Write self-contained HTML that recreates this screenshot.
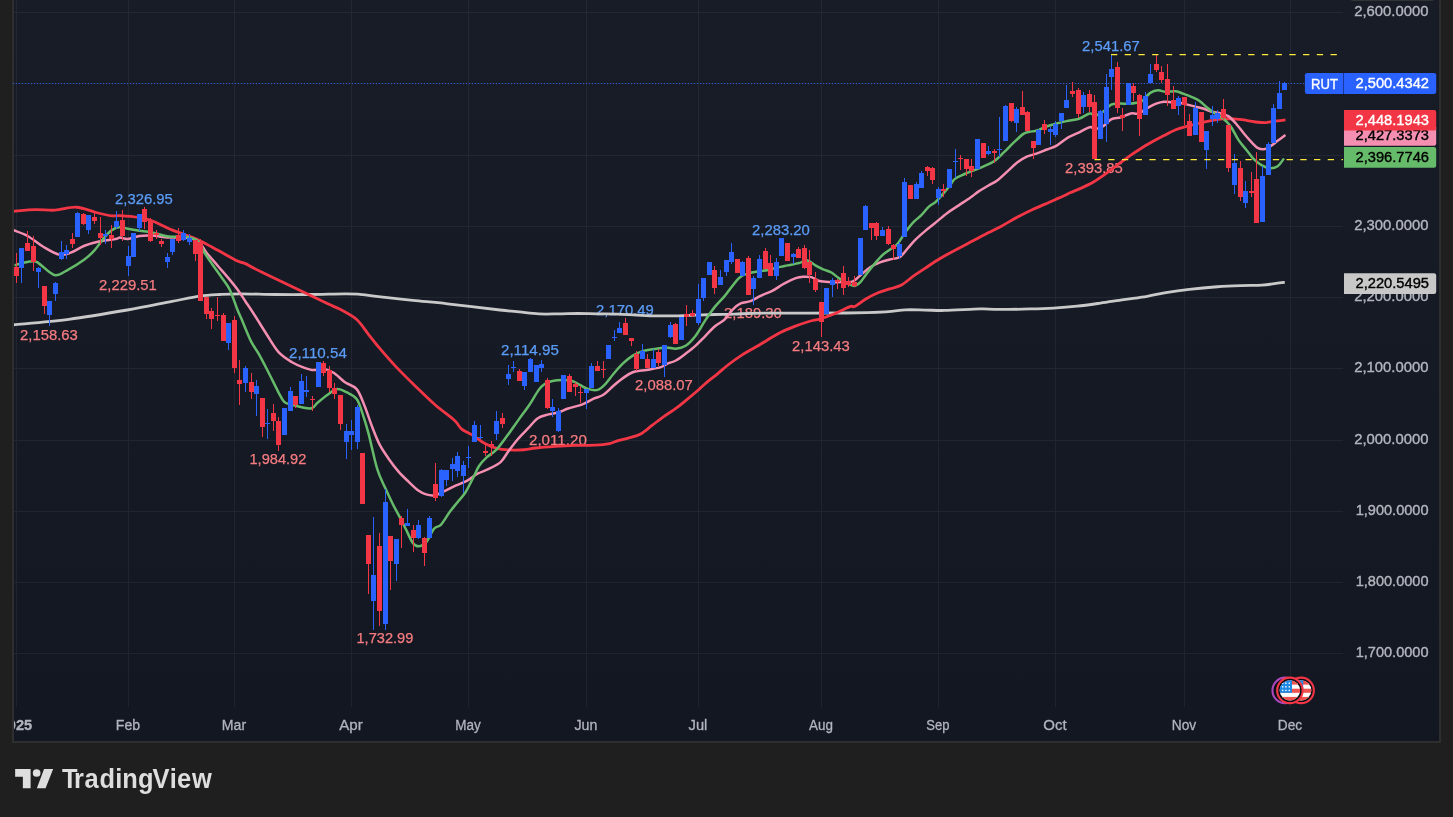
<!DOCTYPE html>
<html><head><meta charset="utf-8"><title>RUT chart</title>
<style>
html,body{margin:0;padding:0;background:#1f1f1f;}
body{width:1453px;height:817px;overflow:hidden;position:relative;font-family:"Liberation Sans",sans-serif;}
</style></head><body>
<svg width="1453" height="817" viewBox="0 0 1453 817" style="position:absolute;left:0;top:0">
<defs><linearGradient id="bg" x1="0" y1="0" x2="0" y2="1"><stop offset="0" stop-color="#181c27"/><stop offset="1" stop-color="#131722"/></linearGradient><clipPath id="plot"><rect x="14" y="0" width="1329" height="707"/></clipPath><clipPath id="chart"><rect x="14" y="0" width="1425" height="741"/></clipPath><clipPath id="flag"><circle cx="0" cy="0" r="10.2"/></clipPath></defs>
<rect x="12" y="-2" width="1429" height="745" fill="#2e2e2e"/>
<rect x="14" y="0" width="1425" height="741" fill="url(#bg)"/>
<path d="M14 12.5H1343 M14 83.5H1343 M14 155.5H1343 M14 226.5H1343 M14 297.5H1343 M14 368.5H1343 M14 440.5H1343 M14 511.5H1343 M14 582.5H1343 M14 653.5H1343 M16.5 0V707 M128.5 0V707 M234.5 0V707 M351.5 0V707 M468.5 0V707 M586.5 0V707 M698.5 0V707 M821.5 0V707 M938.5 0V707 M1055.5 0V707 M1184.5 0V707 M1290.5 0V707" stroke="rgba(242,242,242,0.058)" stroke-width="1" fill="none" shape-rendering="crispEdges"/>
<path d="M12.9 83.5H1305" stroke="#2962ff" stroke-width="1.2" stroke-dasharray="1.2 1.8" stroke-opacity="0.85" fill="none"/>
<g font-family="Liberation Sans, sans-serif" font-size="14.9" stroke-width="0.25">
<text x="115" y="203.78" fill="#5b9cf6" stroke="#5b9cf6" textLength="57.8" lengthAdjust="spacingAndGlyphs">2,326.95</text>
<text x="99" y="289.61" fill="#f77c80" stroke="#f77c80" textLength="57.8" lengthAdjust="spacingAndGlyphs">2,229.51</text>
<text x="20" y="340.12" fill="#f77c80" stroke="#f77c80" textLength="57.8" lengthAdjust="spacingAndGlyphs">2,158.63</text>
<text x="289" y="357.99" fill="#5b9cf6" stroke="#5b9cf6" textLength="57.8" lengthAdjust="spacingAndGlyphs">2,110.54</text>
<text x="249.45" y="463.91" fill="#f77c80" stroke="#f77c80" textLength="56.9" lengthAdjust="spacingAndGlyphs">1,984.92</text>
<text x="356.45" y="643.43" fill="#f77c80" stroke="#f77c80" textLength="56.9" lengthAdjust="spacingAndGlyphs">1,732.99</text>
<text x="501" y="354.85" fill="#5b9cf6" stroke="#5b9cf6" textLength="57.8" lengthAdjust="spacingAndGlyphs">2,114.95</text>
<text x="529" y="445.18" fill="#f77c80" stroke="#f77c80" textLength="57.8" lengthAdjust="spacingAndGlyphs">2,011.20</text>
<text x="596" y="315.27" fill="#5b9cf6" stroke="#5b9cf6" textLength="57.8" lengthAdjust="spacingAndGlyphs">2,170.49</text>
<text x="635" y="390.4" fill="#f77c80" stroke="#f77c80" textLength="57.8" lengthAdjust="spacingAndGlyphs">2,088.07</text>
<text x="752" y="234.95" fill="#5b9cf6" stroke="#5b9cf6" textLength="57.8" lengthAdjust="spacingAndGlyphs">2,283.20</text>
<text x="724" y="318.26" fill="#f77c80" stroke="#f77c80" textLength="57.8" lengthAdjust="spacingAndGlyphs">2,189.30</text>
<text x="792" y="350.95" fill="#f77c80" stroke="#f77c80" textLength="57.8" lengthAdjust="spacingAndGlyphs">2,143.43</text>
<text x="1065" y="172.5" fill="#f77c80" stroke="#f77c80" textLength="57.8" lengthAdjust="spacingAndGlyphs">2,393.85</text>
<text x="1082" y="50.77" fill="#5b9cf6" stroke="#5b9cf6" textLength="57.8" lengthAdjust="spacingAndGlyphs">2,541.67</text>
</g>
<g clip-path="url(#plot)">
<path d="M13.8 324.8C22.97 323.88 49.88 321.77 68.8 319.3C87.72 316.83 110.1 312.98 127.3 310C144.5 307.02 159.95 303.7 172 301.4C184.05 299.1 191.57 297.35 199.6 296.2C207.63 295.05 213.32 294.9 220.2 294.5C227.08 294.1 231.72 293.8 240.9 293.8C250.08 293.8 263.83 294.38 275.3 294.5C286.77 294.62 298.23 294.62 309.7 294.5C321.17 294.38 336.07 293.85 344.1 293.8C352.13 293.75 352.17 293.73 357.9 294.2C363.63 294.67 369.33 295.57 378.5 296.6C387.67 297.63 401.42 299.2 412.9 300.4C424.38 301.6 432.88 302.2 447.4 303.8C461.92 305.4 488.04 308.64 500 310C511.96 311.36 512.71 311.29 519.17 311.93C525.63 312.58 532.23 313.57 538.75 313.89C545.28 314.22 551.81 313.96 558.34 313.89C564.87 313.83 571.4 313.5 577.92 313.5C584.45 313.5 590.98 313.8 597.51 313.89C604.04 313.99 610.57 313.89 617.09 314.09C623.62 314.29 630.15 314.77 636.68 315.07C643.21 315.36 649.73 315.72 656.26 315.85C662.79 315.98 669.32 315.98 675.85 315.85C682.38 315.72 688.9 315.3 695.43 315.07C701.96 314.84 708.49 314.64 715.02 314.48C721.55 314.32 726.44 314.32 734.6 314.09C742.76 313.86 745.3 313.29 763.98 313.11C782.66 312.93 826.37 313.21 846.68 312.99C866.99 312.78 876.06 312.34 885.85 311.82C895.64 311.3 898.9 310.15 905.43 309.86C911.96 309.57 918.49 309.96 925.02 310.05C931.55 310.15 936.44 310.61 944.6 310.45C952.76 310.28 967.51 309.32 973.98 309.08C980.45 308.83 979.1 308.91 983.4 308.97C987.7 309.03 991.98 309.44 999.78 309.44C1007.58 309.44 1021.23 309.2 1030.2 308.97C1039.17 308.73 1045.8 308.5 1053.6 308.03C1061.4 307.56 1069.2 306.98 1077 306.16C1084.8 305.34 1092.6 304.21 1100.4 303.12C1108.2 302.03 1116 300.74 1123.8 299.61C1131.6 298.48 1140.18 297.5 1147.2 296.33C1154.22 295.16 1158.9 293.76 1165.92 292.59C1172.94 291.42 1180.74 290.29 1189.32 289.31C1197.9 288.34 1208.82 287.36 1217.4 286.74C1225.98 286.11 1233.39 285.84 1240.8 285.57C1248.21 285.3 1256.01 285.45 1261.86 285.1C1267.71 284.75 1272.08 283.93 1275.9 283.46C1279.72 282.99 1283.31 282.49 1284.79 282.29" stroke="#c9c9c9" stroke-width="2.8" fill="none" stroke-linecap="butt" stroke-linejoin="round"/>
<path d="M13.33 211.14C17.02 210.88 28.5 209.74 35.45 209.58C42.4 209.41 48.18 210.56 55.03 210.16C61.88 209.77 69.71 206.84 76.56 207.23C83.41 207.62 90.27 211.08 96.14 212.51C102.01 213.95 107.82 215.32 111.8 215.84C115.78 216.36 115.37 215.34 120 215.63C124.63 215.92 134.36 216.78 139.58 217.59C144.81 218.41 146.44 218.67 151.34 220.53C156.23 222.39 163.41 226.4 168.96 228.75C174.51 231.1 179.41 232.61 184.63 234.63C189.85 236.65 194.75 238.29 200.3 240.9C205.85 243.51 211.72 246.94 217.92 250.3C224.13 253.66 232.94 258.85 237.51 261.07C242.08 263.29 241.26 261.75 245.34 263.62C249.42 265.48 248.33 265.58 261.99 272.23C275.65 278.88 314.13 297.27 327.3 303.53C340.47 309.79 336.11 307.12 341.01 309.79C345.91 312.47 352.11 315.5 356.68 319.58C361.25 323.66 364.51 329.38 368.43 334.27C372.35 339.17 375.61 343.58 380.18 348.96C384.75 354.35 389.97 360.39 395.85 366.59C401.72 372.79 408.9 379.81 415.43 386.17C421.96 392.54 428.49 399.07 435.02 404.78C441.55 410.49 450.2 416.44 454.6 420.45C459 424.45 458.25 426.24 461.43 428.81C464.61 431.39 469.76 433.44 473.68 435.89C477.6 438.34 481.09 441.42 484.93 443.5C488.76 445.59 492.76 447.32 496.68 448.4C500.6 449.48 503.86 449.74 508.43 449.96C513 450.19 519.53 450.1 524.1 449.77C528.67 449.44 530.63 448.56 535.85 448.01C541.07 447.45 548.9 446.86 555.43 446.44C561.96 446.02 568.49 445.69 575.02 445.46C581.55 445.23 589.05 445.33 594.6 445.07C600.15 444.81 604.39 444.64 608.31 443.89C612.23 443.14 614.68 441.57 618.1 440.56C621.53 439.56 625.1 438.97 628.84 437.87C632.59 436.76 636.68 436.07 640.6 433.95C644.51 431.83 648.43 428.07 652.35 425.14C656.26 422.2 660.18 419.1 664.1 416.32C668.01 413.55 672.26 411.1 675.85 408.49C679.44 405.88 681.9 403.74 685.64 400.65C689.38 397.57 694.82 393.01 698.3 390C701.78 386.99 703.3 385.3 706.5 382.6C709.7 379.9 713.82 376.82 717.5 373.8C721.18 370.78 724.55 367.62 728.6 364.5C732.65 361.38 737.22 358.05 741.8 355.1C746.38 352.15 751.88 349.28 756.1 346.8C760.32 344.32 763.05 342.58 767.1 340.2C771.15 337.82 775.8 334.8 780.4 332.5C785 330.2 789.93 328.23 794.7 326.4C799.47 324.57 804.78 322.73 809 321.5C813.22 320.27 815.97 320.2 820 319C824.03 317.8 828.2 316.37 833.2 314.3C838.2 312.23 846.45 307.9 850 306.6C853.55 305.3 851.8 307.85 854.51 306.53C857.22 305.21 862.35 300.98 866.26 298.7C870.18 296.41 874.1 294.45 878.01 292.82C881.93 291.19 885.85 290.21 889.76 288.9C893.68 287.6 897.6 287.11 901.52 284.99C905.43 282.86 909.35 278.95 913.27 276.17C917.18 273.4 921.1 270.95 925.02 268.34C928.93 265.73 932.85 262.95 936.77 260.51C940.69 258.06 942.24 257.07 948.52 253.65C954.8 250.23 967.82 243.49 974.42 240.01C981.02 236.53 983.56 235.11 988.13 232.76C992.7 230.41 996.94 228.52 1001.84 225.91C1006.74 223.3 1012.29 219.87 1017.51 217.09C1022.73 214.32 1027.95 211.71 1033.18 209.26C1038.4 206.81 1043.62 204.69 1048.84 202.41C1054.07 200.12 1060.99 197.16 1064.51 195.55C1068.04 193.94 1067.13 194.04 1070 192.76C1072.87 191.48 1077.83 189.66 1081.75 187.87C1085.67 186.07 1089.58 184.27 1093.5 181.99C1097.42 179.7 1101.34 176.93 1105.25 174.16C1109.17 171.38 1113.09 168.28 1117 165.34C1120.92 162.41 1124.84 159.3 1128.75 156.53C1132.67 153.76 1136.59 151.14 1140.51 148.7C1144.42 146.25 1148.34 144.03 1152.26 141.84C1156.17 139.65 1160.09 137.6 1164.01 135.57C1167.92 133.55 1171.84 131.27 1175.76 129.7C1179.67 128.13 1183.59 127.25 1187.51 126.17C1191.43 125.1 1195.34 124.15 1199.26 123.24C1203.18 122.32 1207.09 121.41 1211.01 120.69C1214.93 119.97 1218.84 119.22 1222.76 118.93C1226.68 118.63 1230.6 118.7 1234.51 118.93C1238.43 119.16 1242.35 119.74 1246.26 120.3C1250.18 120.85 1254.75 121.86 1258.01 122.26C1261.28 122.65 1263.24 122.81 1265.85 122.65C1268.46 122.48 1270.42 121.73 1273.68 121.28C1276.95 120.82 1283.47 120.13 1285.43 119.91" stroke="#f23645" stroke-width="2.8" fill="none" stroke-linecap="butt" stroke-linejoin="round"/>
<path d="M13.33 230.13C15.71 231.11 22.63 233.23 27.62 236.01C32.61 238.78 38.06 243.67 43.28 246.77C48.5 249.87 54.37 253.63 58.94 254.6C63.51 255.58 66.45 254.12 70.69 252.65C74.93 251.18 79.5 247.69 84.39 245.79C89.29 243.9 94.83 242.43 100.05 241.29C105.28 240.15 112.39 239.56 115.72 238.94C119.04 238.32 117.98 237.57 120 237.57C122.02 237.57 124.57 239.2 127.83 238.94C131.1 238.68 135.67 236.56 139.58 236C143.5 235.45 146.44 235.35 151.34 235.61C156.23 235.87 163.41 237.24 168.96 237.57C174.51 237.89 179.73 236.91 184.63 237.57C189.53 238.22 194.75 239.04 198.34 241.48C201.93 243.93 202.91 248.18 206.17 252.26C209.44 256.34 214.01 261.4 217.92 265.97C221.84 270.54 226.41 275.76 229.67 279.67C232.94 283.59 234.9 285.88 237.51 289.47C240.12 293.06 242.43 296.83 245.34 301.22C248.26 305.6 251.45 310.28 254.99 315.79C258.53 321.3 262.7 328.25 266.59 334.27C270.48 340.29 274.1 347.23 278.34 351.9C282.58 356.57 287.81 359.67 292.05 362.28C296.29 364.89 300.21 366.26 303.8 367.57C307.39 368.87 310.65 369.95 313.59 370.11C316.53 370.28 318.16 368.16 321.43 368.55C324.69 368.94 329.26 370.18 333.18 372.46C337.09 374.75 341.01 379.48 344.93 382.26C348.84 385.03 353.41 385.19 356.68 389.11C359.94 393.03 361.9 399.39 364.51 405.76C367.12 412.12 369.82 420.81 372.35 427.3C374.87 433.79 376.91 439.39 379.67 444.7C382.44 450.02 385.78 454.64 388.96 459.17C392.14 463.7 395.49 468.15 398.75 471.9C402.02 475.65 405.28 478.59 408.55 481.69C411.81 484.79 415.4 488.38 418.34 490.51C421.28 492.63 423.56 493.61 426.17 494.42C428.78 495.24 431.07 495.89 434.01 495.4C436.94 494.91 440.21 493.12 443.8 491.48C447.39 489.85 451.63 487.4 455.55 485.61C459.47 483.81 463.71 482.67 467.3 480.71C470.89 478.75 473.5 475.82 477.09 473.86C480.68 471.9 484.93 470.92 488.84 468.96C492.76 467 497.33 465.05 500.6 462.11C503.86 459.17 505.58 455.15 508.43 451.34C511.28 447.52 514.37 443.11 517.72 439.21C521.06 435.32 525.14 431.46 528.49 427.95C531.83 424.44 534.45 420.43 537.79 418.16C541.13 415.9 545.12 415.32 548.55 414.36C551.97 413.4 555.08 413.38 558.34 412.41C561.6 411.43 564.21 409.79 568.13 408.49C572.05 407.18 577.6 406.2 581.84 404.57C586.08 402.94 590 400.33 593.59 398.7C597.18 397.06 600.12 396.9 603.38 394.78C606.65 392.66 609.91 388.74 613.18 385.97C616.44 383.19 619.7 380.42 622.97 378.13C626.23 375.85 628.84 373.63 632.76 372.26C636.68 370.89 641.9 370.72 646.47 369.91C651.04 369.09 656.59 368.44 660.18 367.36C663.77 366.28 665.4 364.59 668.01 363.44C670.63 362.3 672.91 362.14 675.85 360.51C678.79 358.87 682.38 356.1 685.64 353.65C688.9 351.2 692.17 348.75 695.43 345.82C698.7 342.88 701.96 339.29 705.23 336.02C708.49 332.76 711.75 329.01 715.02 326.23C718.28 323.46 721.87 322.15 724.81 319.38C727.75 316.6 730 312.24 732.64 309.58C735.29 306.93 737.72 304.85 740.7 303.45C743.67 302.06 747.19 302.49 750.49 301.2C753.79 299.92 756.88 297.48 760.51 295.76C764.13 294.03 768.34 292.89 772.26 290.86C776.17 288.84 780.09 285.74 784.01 283.62C787.92 281.49 792.49 279.27 795.76 278.13C799.02 276.99 800.98 276.92 803.59 276.76C806.2 276.6 808.81 276.43 811.43 277.15C814.04 277.87 816 280.25 819.26 281.07C822.52 281.89 827.09 281.89 831.01 282.05C834.93 282.21 839.17 282.11 842.76 282.05C846.35 281.98 849.62 282.8 852.55 281.66C855.49 280.51 857.45 277.58 860.39 275.19C863.33 272.81 866.92 269.48 870.18 267.36C873.44 265.24 876.71 263.77 879.97 262.46C883.24 261.16 886.5 260.41 889.76 259.53C893.03 258.64 896.62 258.97 899.56 257.18C902.5 255.38 904.78 251.63 907.39 248.75C910 245.88 912.29 242.88 915.23 239.94C918.16 237 921.75 233.9 925.02 231.13C928.28 228.35 931.15 226.29 934.81 223.29C938.47 220.3 943.01 216.17 947 213.18C950.99 210.18 954.84 207.95 958.75 205.34C962.67 202.73 967.24 199.79 970.51 197.51C973.77 195.22 975.4 193.59 978.34 191.63C981.28 189.67 984.87 187.72 988.13 185.76C991.4 183.8 994.66 182.33 997.92 179.88C1001.19 177.43 1004.45 174.01 1007.72 171.07C1010.98 168.13 1014.24 164.7 1017.51 162.26C1020.77 159.81 1024.04 157.85 1027.3 156.38C1030.57 154.91 1033.83 154.59 1037.09 153.44C1040.36 152.3 1043.62 150.83 1046.89 149.53C1050.15 148.22 1053.12 147.64 1056.68 145.61C1060.24 143.58 1064.38 139.62 1068.24 137.36C1072.09 135.1 1076.23 133.75 1079.79 132.05C1083.35 130.35 1086.97 127.64 1089.58 127.15C1092.2 126.66 1093.18 129.27 1095.46 129.11C1097.75 128.95 1100.68 127.81 1103.29 126.17C1105.91 124.54 1108.19 120.79 1111.13 119.32C1114.07 117.85 1117.66 118.34 1120.92 117.36C1124.18 116.38 1127.78 114.1 1130.71 113.44C1133.65 112.79 1135.61 114.42 1138.55 113.44C1141.48 112.46 1145.4 109.2 1148.34 107.57C1151.28 105.94 1153.56 104.63 1156.17 103.65C1158.78 102.67 1161.4 101.92 1164.01 101.69C1166.62 101.46 1169.23 102.12 1171.84 102.28C1174.45 102.44 1177.06 102.28 1179.67 102.67C1182.29 103.06 1184.9 103.98 1187.51 104.63C1190.12 105.28 1192.73 105.94 1195.34 106.59C1197.95 107.24 1200.57 107.73 1203.18 108.55C1205.79 109.36 1208.07 110.67 1211.01 111.48C1213.95 112.3 1217.87 112.63 1220.8 113.44C1223.74 114.26 1226.03 114.59 1228.64 116.38C1231.25 118.18 1233.86 121.28 1236.47 124.21C1239.08 127.15 1241.69 130.91 1244.3 134.01C1246.92 137.11 1249.85 140.47 1252.14 142.82C1254.42 145.17 1256.06 147.03 1258.01 148.11C1259.97 149.19 1261.93 149.51 1263.89 149.28C1265.85 149.05 1267.48 148.14 1269.76 146.74C1272.05 145.33 1274.99 142.82 1277.6 140.86C1280.21 138.9 1284.13 135.97 1285.43 134.99" stroke="#f48fb1" stroke-width="2.5" fill="none" stroke-linecap="butt" stroke-linejoin="round"/>
<path d="M14.6 265.37C16.28 264.88 21.21 263.09 24.68 262.44C28.16 261.78 32.68 260.97 35.45 261.46C38.22 261.95 38.06 263.09 41.32 265.37C44.59 267.66 50.46 274.51 55.03 275.16C59.6 275.81 63.84 271.9 68.73 269.29C73.63 266.68 80.15 262.6 84.39 259.5C88.63 256.4 90.92 254.28 94.18 250.69C97.44 247.1 101.03 241.39 103.97 237.96C106.91 234.54 109.16 231.96 111.8 230.13C114.44 228.31 117.14 227.23 119.82 227C122.49 226.77 124.54 228.13 127.83 228.75C131.13 229.37 135.67 230.13 139.58 230.71C143.5 231.3 146.44 231.3 151.34 232.28C156.23 233.26 163.41 235.87 168.96 236.59C174.51 237.31 179.73 235.77 184.63 236.59C189.53 237.4 195.08 238.87 198.34 241.48C201.6 244.1 201.93 248.5 204.21 252.26C206.5 256.01 209.11 259.76 212.05 264.01C214.99 268.25 218.9 273.47 221.84 277.72C224.78 281.96 227.09 284.18 229.67 289.47C232.26 294.75 235.4 304.53 237.36 309.42C239.32 314.32 239.17 313.56 241.43 318.84C243.69 324.13 248.03 335.29 250.92 341.13C253.81 346.96 255.82 348.64 258.75 353.86C261.69 359.08 265.28 366.1 268.55 372.46C271.81 378.83 275.73 387.15 278.34 392.05C280.95 396.94 281.93 399.72 284.21 401.84C286.5 403.96 289.11 403.86 292.05 404.78C294.99 405.69 298.58 406.74 301.84 407.32C305.11 407.91 309.02 409.05 311.63 408.3C314.24 407.55 314.9 405.04 317.51 402.82C320.12 400.6 324.04 397.27 327.3 394.99C330.57 392.7 333.83 389.54 337.09 389.11C340.36 388.69 343.62 390.81 346.89 392.44C350.15 394.07 354.07 395.38 356.68 398.9C359.29 402.43 360.6 407.88 362.55 413.59C364.51 419.3 365.99 423.95 368.43 433.18C370.87 442.41 374.44 459.9 377.21 468.96C379.98 478.03 382.43 481.69 385.05 487.57C387.66 493.44 390.27 498.99 392.88 504.21C395.49 509.44 398.43 514.5 400.71 518.9C403 523.31 404.63 526.74 406.59 530.65C408.55 534.57 410.51 539.79 412.46 542.41C414.42 545.02 416.05 546.32 418.34 546.32C420.62 546.32 423.56 545.34 426.17 542.41C428.78 539.47 431.56 531.63 434.01 528.7C436.46 525.76 438.25 527.55 440.86 524.78C443.47 522 446.9 515.8 449.67 512.05C452.45 508.29 454.9 505.52 457.51 502.26C460.12 498.99 462.73 496.54 465.34 492.46C467.95 488.38 470.89 482.18 473.18 477.78C475.46 473.37 476.77 469.45 479.05 466.02C481.34 462.6 483.95 459.99 486.89 457.21C489.82 454.44 493.17 453.11 496.68 449.38C500.18 445.64 504.25 439.77 507.92 434.81C511.59 429.85 515.19 424.51 518.7 419.63C522.2 414.75 525.62 410.51 528.96 405.55C532.31 400.59 536.14 393.47 538.75 389.88C541.37 386.29 542.34 385.48 544.63 384.01C546.91 382.54 549.53 381.72 552.46 381.07C555.4 380.42 558.99 380.09 562.26 380.09C565.52 380.09 569.11 380.25 572.05 381.07C574.99 381.89 577.27 383.68 579.88 384.99C582.49 386.29 584.78 388.09 587.72 388.9C590.65 389.72 594.57 390.7 597.51 389.88C600.45 389.07 602.73 386.62 605.34 384.01C607.95 381.4 610.24 377.64 613.18 374.21C616.11 370.79 619.7 366.54 622.97 363.44C626.23 360.34 629.5 357.67 632.76 355.61C636.03 353.55 638.64 352.25 642.55 351.1C646.47 349.96 652.35 349.37 656.26 348.75C660.18 348.13 662.79 347.38 666.06 347.38C669.32 347.38 672.58 349.02 675.85 348.75C679.11 348.49 682.38 347.94 685.64 345.82C688.9 343.69 692.17 340.27 695.43 336.02C698.7 331.78 701.96 325.25 705.23 320.36C708.49 315.46 711.75 310.73 715.02 306.65C718.28 302.57 720.82 300.63 724.81 295.88C728.8 291.12 734.97 281.9 738.96 278.13C742.95 274.36 745.49 274.38 748.75 273.24C752.02 272.09 755.28 271.83 758.55 271.28C761.81 270.72 765.08 270.56 768.34 269.91C771.6 269.25 774.87 268.11 778.13 267.36C781.4 266.61 784.33 266.15 787.92 265.4C791.51 264.65 796.41 263.67 799.67 262.86C802.94 262.04 804.9 260.08 807.51 260.51C810.12 260.93 812.73 263.93 815.34 265.4C817.95 266.87 820.57 268.18 823.18 269.32C825.79 270.46 828.4 270.79 831.01 272.26C833.62 273.73 836.23 276.34 838.84 278.13C841.46 279.93 844.07 281.72 846.68 283.03C849.29 284.33 852.23 286.13 854.51 285.97C856.8 285.8 858.43 284.01 860.39 282.05C862.35 280.09 863.98 277.15 866.26 274.21C868.55 271.28 871.49 267.52 874.1 264.42C876.71 261.32 879.32 258.06 881.93 255.61C884.54 253.16 887.15 251.69 889.76 249.73C892.38 247.78 894.99 246.8 897.6 243.86C900.21 240.92 902.82 235.7 905.43 232.11C908.04 228.52 910.66 225.09 913.27 222.31C915.88 219.54 918.49 218.07 921.1 215.46C923.71 212.85 926.32 209.1 928.93 206.65C931.55 204.2 933.43 204.09 936.77 200.77C940.11 197.45 945.95 190.38 948.96 186.74C951.97 183.09 952.23 181.02 954.84 178.9C957.45 176.78 961.37 175.48 964.63 174.01C967.89 172.54 971.16 171.4 974.42 170.09C977.69 168.78 980.95 167.64 984.21 166.17C987.48 164.7 990.74 163.56 994.01 161.28C997.27 158.99 1000.54 155.56 1003.8 152.46C1007.06 149.36 1010.33 145.77 1013.59 142.67C1016.86 139.57 1020.77 135.65 1023.38 133.86C1026 132.06 1026.97 132.45 1029.26 131.9C1031.54 131.34 1034.48 131.34 1037.09 130.53C1039.7 129.71 1041.99 128.08 1044.93 127C1047.87 125.93 1051.13 125.05 1054.72 124.07C1058.31 123.09 1062.42 122.01 1066.47 121.13C1070.52 120.24 1075.15 120.04 1079.01 118.75C1082.86 117.47 1086.84 114 1089.58 113.44C1092.33 112.88 1093.18 115.73 1095.46 115.4C1097.75 115.08 1100.68 113.28 1103.29 111.48C1105.91 109.69 1108.52 105.94 1111.13 104.63C1113.74 103.32 1116.02 103.81 1118.96 103.65C1121.9 103.49 1125.82 103.81 1128.75 103.65C1131.69 103.49 1134.3 103.16 1136.59 102.67C1138.87 102.18 1140.18 102.34 1142.46 100.71C1144.75 99.08 1147.69 94.61 1150.3 92.88C1152.91 91.15 1155.52 90.5 1158.13 90.33C1160.74 90.17 1163.03 91.74 1165.97 91.9C1168.9 92.06 1172.82 90.99 1175.76 91.31C1178.7 91.64 1180.98 92.94 1183.59 93.86C1186.2 94.77 1188.81 95.65 1191.43 96.8C1194.04 97.94 1196.65 98.92 1199.26 100.71C1201.87 102.51 1204.48 105.45 1207.09 107.57C1209.7 109.69 1212.32 111.65 1214.93 113.44C1217.54 115.24 1220.15 116.22 1222.76 118.34C1225.37 120.46 1227.98 122.58 1230.6 126.17C1233.21 129.76 1235.82 135.97 1238.43 139.88C1241.04 143.8 1243.65 146.41 1246.26 149.67C1248.87 152.94 1251.49 156.86 1254.1 159.47C1256.71 162.08 1259.32 163.87 1261.93 165.34C1264.54 166.81 1267.15 168.12 1269.76 168.28C1272.38 168.44 1275.23 167.95 1277.6 166.32C1279.97 164.69 1282.9 159.79 1283.96 158.49" stroke="#66bb6a" stroke-width="2.5" fill="none" stroke-linecap="butt" stroke-linejoin="round"/>
<path d="M21 248h1V283h-1zM38 267h1V288h-1zM49 301h1V326h-1zM55 282h1V301h-1zM61 241h1V260h-1zM66 245h1V259h-1zM77 212h1V237h-1zM88 215h1V234h-1zM105 230h1V244h-1zM116 211h1V229h-1zM128 246h1V276h-1zM133 233h1V257h-1zM139 214h1V231h-1zM167 253h1V268h-1zM172 239h1V255h-1zM183 230h1V241h-1zM189 234h1V245h-1zM228 323h1V350h-1zM245 366h1V392h-1zM256 380h1V416h-1zM267 409h1V439h-1zM284 408h1V435h-1zM290 387h1V411h-1zM301 374h1V404h-1zM306 376h1V397h-1zM318 362h1V387h-1zM346 424h1V459h-1zM351 420h1V450h-1zM357 405h1V449h-1zM373 517h1V630h-1zM385 489h1V630h-1zM396 539h1V581h-1zM407 509h1V526h-1zM418 520h1V539h-1zM429 516h1V538h-1zM441 469h1V497h-1zM446 470h1V486h-1zM452 458h1V481h-1zM457 452h1V477h-1zM463 461h1V493h-1zM468 446h1V468h-1zM474 421h1V442h-1zM480 425h1V439h-1zM496 411h1V440h-1zM508 365h1V385h-1zM513 361h1V372h-1zM524 372h1V390h-1zM530 358h1V372h-1zM536 365h1V382h-1zM541 360h1V372h-1zM552 399h1V417h-1zM558 408h1V432h-1zM563 375h1V399h-1zM586 389h1V409h-1zM591 363h1V388h-1zM608 345h1V359h-1zM614 330h1V341h-1zM619 322h1V333h-1zM642 344h1V359h-1zM653 349h1V368h-1zM664 345h1V377h-1zM670 322h1V338h-1zM681 317h1V340h-1zM698 284h1V325h-1zM703 278h1V301h-1zM709 262h1V275h-1zM720 270h1V285h-1zM726 260h1V276h-1zM731 243h1V264h-1zM742 261h1V276h-1zM753 276h1V305h-1zM759 255h1V278h-1zM776 258h1V280h-1zM781 238h1V256h-1zM793 253h1V264h-1zM826 288h1V314h-1zM832 278h1V297h-1zM860 238h1V275h-1zM865 205h1V230h-1zM882 227h1V236h-1zM899 242h1V259h-1zM904 178h1V237h-1zM916 182h1V199h-1zM921 171h1V188h-1zM938 187h1V205h-1zM949 169h1V188h-1zM955 149h1V178h-1zM977 139h1V169h-1zM988 146h1V155h-1zM999 117h1V157h-1zM1005 105h1V141h-1zM1016 107h1V132h-1zM1038 129h1V145h-1zM1050 127h1V145h-1zM1055 121h1V137h-1zM1061 113h1V129h-1zM1066 85h1V108h-1zM1083 92h1V113h-1zM1100 110h1V139h-1zM1106 74h1V142h-1zM1111 55h1V90h-1zM1128 83h1V105h-1zM1145 92h1V115h-1zM1150 64h1V83h-1zM1178 96h1V115h-1zM1195 102h1V135h-1zM1206 131h1V169h-1zM1212 106h1V126h-1zM1217 110h1V123h-1zM1234 154h1V194h-1zM1245 181h1V208h-1zM1262 166h1V222h-1zM1268 142h1V175h-1zM1273 104h1V143h-1zM1279 81h1V109h-1zM1284 82h1V90h-1zM19 248h5V268h-5zM36 268h5V272h-5zM47 301h5V315h-5zM53 283h5V294h-5zM59 252h5V259h-5zM64 250h5V254h-5zM75 213h5V237h-5zM86 215h5V230h-5zM103 234h5V236h-5zM114 221h5V227h-5zM126 256h5V266h-5zM131 233h5V257h-5zM137 214h5V228h-5zM165 257h5V262h-5zM170 239h5V252h-5zM181 233h5V240h-5zM187 238h5V242h-5zM226 323h5V343h-5zM243 368h5V383h-5zM254 386h5V394h-5zM265 423h5V424h-5zM282 408h5V435h-5zM288 391h5V411h-5zM299 381h5V404h-5zM304 390h5V392h-5zM316 362h5V387h-5zM344 431h5V442h-5zM349 431h5V435h-5zM355 407h5V442h-5zM371 575h5V601h-5zM383 502h5V624h-5zM394 539h5V564h-5zM405 523h5V526h-5zM416 525h5V538h-5zM427 518h5V538h-5zM439 470h5V496h-5zM444 470h5V480h-5zM450 464h5V469h-5zM455 456h5V471h-5zM461 465h5V476h-5zM466 457h5V458h-5zM472 425h5V442h-5zM478 437h5V438h-5zM494 421h5V434h-5zM506 374h5V379h-5zM511 367h5V368h-5zM522 372h5V386h-5zM528 359h5V372h-5zM534 365h5V382h-5zM539 364h5V368h-5zM550 407h5V411h-5zM556 411h5V431h-5zM561 375h5V399h-5zM584 389h5V393h-5zM589 366h5V388h-5zM606 345h5V359h-5zM612 337h5V338h-5zM617 328h5V333h-5zM640 351h5V359h-5zM651 359h5V368h-5zM662 345h5V365h-5zM668 325h5V337h-5zM679 317h5V340h-5zM696 299h5V323h-5zM701 278h5V298h-5zM707 262h5V275h-5zM718 277h5V285h-5zM724 260h5V272h-5zM729 252h5V262h-5zM740 262h5V276h-5zM751 278h5V289h-5zM757 259h5V278h-5zM774 262h5V276h-5zM779 238h5V256h-5zM791 254h5V257h-5zM824 288h5V314h-5zM830 280h5V285h-5zM858 238h5V275h-5zM863 206h5V230h-5zM880 230h5V236h-5zM897 244h5V256h-5zM902 182h5V237h-5zM914 184h5V199h-5zM919 173h5V188h-5zM936 189h5V198h-5zM947 169h5V188h-5zM953 161h5V162h-5zM975 139h5V169h-5zM986 151h5V154h-5zM997 149h5V150h-5zM1003 106h5V141h-5zM1014 109h5V123h-5zM1036 130h5V145h-5zM1048 129h5V132h-5zM1053 124h5V135h-5zM1059 113h5V121h-5zM1064 100h5V108h-5zM1081 95h5V107h-5zM1098 111h5V139h-5zM1104 87h5V124h-5zM1109 69h5V77h-5zM1126 83h5V105h-5zM1143 96h5V115h-5zM1148 74h5V83h-5zM1176 98h5V106h-5zM1193 108h5V135h-5zM1204 131h5V150h-5zM1210 115h5V119h-5zM1215 113h5V119h-5zM1232 163h5V185h-5zM1243 191h5V203h-5zM1260 176h5V222h-5zM1266 144h5V175h-5zM1271 108h5V143h-5zM1277 93h5V109h-5zM1282 83h5V90h-5z" fill="#2962ff" shape-rendering="crispEdges"/>
<path d="M16 253h1V283h-1zM27 231h1V251h-1zM33 236h1V271h-1zM44 286h1V314h-1zM72 233h1V248h-1zM83 213h1V225h-1zM94 213h1V224h-1zM100 217h1V245h-1zM111 225h1V248h-1zM122 210h1V241h-1zM144 207h1V229h-1zM150 218h1V242h-1zM156 230h1V239h-1zM161 239h1V247h-1zM178 228h1V243h-1zM195 240h1V261h-1zM200 239h1V301h-1zM206 297h1V319h-1zM211 308h1V329h-1zM217 297h1V321h-1zM223 313h1V341h-1zM234 316h1V373h-1zM239 360h1V405h-1zM251 373h1V399h-1zM262 398h1V437h-1zM273 404h1V431h-1zM278 417h1V451h-1zM295 396h1V408h-1zM312 396h1V411h-1zM323 361h1V376h-1zM329 366h1V392h-1zM334 383h1V399h-1zM340 395h1V430h-1zM362 453h1V504h-1zM368 535h1V594h-1zM379 533h1V626h-1zM390 536h1V590h-1zM401 516h1V548h-1zM413 525h1V552h-1zM424 537h1V566h-1zM435 463h1V501h-1zM485 443h1V456h-1zM491 441h1V456h-1zM502 413h1V428h-1zM519 369h1V381h-1zM547 378h1V409h-1zM569 374h1V392h-1zM575 382h1V396h-1zM580 386h1V403h-1zM597 361h1V371h-1zM603 361h1V378h-1zM625 318h1V335h-1zM631 338h1V346h-1zM636 351h1V371h-1zM647 354h1V368h-1zM658 349h1V366h-1zM675 323h1V344h-1zM686 305h1V326h-1zM692 310h1V317h-1zM714 266h1V294h-1zM737 259h1V273h-1zM748 256h1V295h-1zM765 248h1V269h-1zM770 255h1V276h-1zM787 243h1V261h-1zM798 247h1V258h-1zM804 245h1V269h-1zM809 250h1V283h-1zM815 272h1V292h-1zM821 302h1V337h-1zM837 279h1V289h-1zM843 266h1V295h-1zM848 277h1V287h-1zM854 276h1V287h-1zM871 223h1V240h-1zM876 222h1V240h-1zM888 226h1V245h-1zM893 244h1V260h-1zM910 185h1V199h-1zM927 166h1V176h-1zM932 167h1V184h-1zM943 184h1V197h-1zM960 155h1V170h-1zM966 159h1V176h-1zM971 159h1V177h-1zM983 143h1V158h-1zM994 149h1V163h-1zM1011 103h1V122h-1zM1022 91h1V115h-1zM1027 111h1V131h-1zM1033 141h1V159h-1zM1044 120h1V134h-1zM1072 82h1V97h-1zM1078 88h1V118h-1zM1089 90h1V112h-1zM1094 95h1V159h-1zM1117 62h1V113h-1zM1122 108h1V131h-1zM1133 83h1V101h-1zM1139 94h1V136h-1zM1156 55h1V72h-1zM1161 66h1V83h-1zM1167 64h1V106h-1zM1173 86h1V109h-1zM1184 97h1V125h-1zM1189 114h1V136h-1zM1201 112h1V142h-1zM1223 99h1V120h-1zM1228 125h1V172h-1zM1240 161h1V201h-1zM1251 172h1V197h-1zM1256 152h1V223h-1zM14 267h5V276h-5zM25 243h5V251h-5zM31 246h5V262h-5zM42 286h5V306h-5zM70 239h5V244h-5zM81 214h5V224h-5zM92 217h5V221h-5zM98 233h5V238h-5zM109 235h5V239h-5zM120 220h5V236h-5zM142 209h5V222h-5zM148 220h5V241h-5zM154 233h5V235h-5zM159 241h5V244h-5zM176 235h5V241h-5zM193 240h5V254h-5zM198 242h5V301h-5zM204 297h5V314h-5zM209 311h5V319h-5zM215 315h5V316h-5zM221 315h5V341h-5zM232 320h5V368h-5zM237 380h5V384h-5zM249 382h5V392h-5zM260 398h5V427h-5zM271 413h5V421h-5zM276 421h5V445h-5zM293 396h5V405h-5zM310 399h5V400h-5zM321 363h5V373h-5zM327 370h5V388h-5zM332 388h5V394h-5zM338 395h5V424h-5zM360 453h5V504h-5zM366 535h5V564h-5zM377 546h5V611h-5zM388 536h5V561h-5zM399 518h5V525h-5zM411 530h5V538h-5zM422 538h5V553h-5zM433 484h5V498h-5zM483 451h5V453h-5zM489 444h5V447h-5zM500 418h5V424h-5zM517 371h5V381h-5zM545 380h5V408h-5zM567 376h5V392h-5zM573 384h5V387h-5zM578 392h5V393h-5zM595 366h5V371h-5zM601 369h5V370h-5zM623 323h5V335h-5zM629 338h5V341h-5zM634 354h5V369h-5zM645 359h5V368h-5zM656 352h5V363h-5zM673 324h5V344h-5zM684 314h5V317h-5zM690 313h5V316h-5zM712 270h5V288h-5zM735 259h5V273h-5zM746 258h5V295h-5zM763 251h5V269h-5zM768 263h5V276h-5zM785 243h5V261h-5zM796 249h5V258h-5zM802 248h5V268h-5zM807 262h5V275h-5zM813 279h5V290h-5zM819 302h5V322h-5zM835 280h5V282h-5zM841 273h5V288h-5zM846 281h5V285h-5zM852 282h5V286h-5zM869 223h5V228h-5zM874 223h5V236h-5zM886 229h5V244h-5zM891 245h5V249h-5zM908 185h5V199h-5zM925 167h5V171h-5zM930 168h5V180h-5zM941 189h5V191h-5zM958 158h5V159h-5zM964 159h5V169h-5zM969 166h5V171h-5zM981 143h5V158h-5zM992 151h5V153h-5zM1009 103h5V121h-5zM1020 107h5V115h-5zM1025 112h5V131h-5zM1031 141h5V148h-5zM1042 124h5V130h-5zM1070 91h5V94h-5zM1076 90h5V114h-5zM1087 94h5V107h-5zM1092 102h5V159h-5zM1115 67h5V108h-5zM1120 115h5V118h-5zM1131 86h5V93h-5zM1137 95h5V119h-5zM1154 64h5V70h-5zM1159 72h5V80h-5zM1165 79h5V95h-5zM1171 100h5V109h-5zM1182 97h5V105h-5zM1187 121h5V136h-5zM1199 112h5V142h-5zM1221 109h5V118h-5zM1226 125h5V168h-5zM1238 168h5V197h-5zM1249 191h5V193h-5zM1254 179h5V223h-5z" fill="#f23645" shape-rendering="crispEdges"/>
<path d="M1111 54.5H1343" stroke="#ffeb3b" stroke-width="1.25" stroke-dasharray="6.3 7.42" fill="none"/>
<path d="M1094.5 159.5H1343" stroke="#ffeb3b" stroke-width="1.25" stroke-dasharray="6.3 7.42" fill="none"/>
</g>
<g font-family="Liberation Sans, sans-serif" font-size="15.4" fill="#b2b5be" stroke="#b2b5be" stroke-width="0.4">
<text x="1354.2" y="16.2" textLength="74.3" lengthAdjust="spacingAndGlyphs">2,600.0000</text>
<text x="1354.2" y="87.2" textLength="74.3" lengthAdjust="spacingAndGlyphs">2,500.0000</text>
<text x="1354.2" y="159.2" textLength="74.3" lengthAdjust="spacingAndGlyphs">2,400.0000</text>
<text x="1354.2" y="230.2" textLength="74.3" lengthAdjust="spacingAndGlyphs">2,300.0000</text>
<text x="1354.2" y="301.2" textLength="74.3" lengthAdjust="spacingAndGlyphs">2,200.0000</text>
<text x="1354.2" y="372.2" textLength="74.3" lengthAdjust="spacingAndGlyphs">2,100.0000</text>
<text x="1354.2" y="444.2" textLength="74.3" lengthAdjust="spacingAndGlyphs">2,000.0000</text>
<text x="1355.7" y="515.2" textLength="72.8" lengthAdjust="spacingAndGlyphs">1,900.0000</text>
<text x="1355.7" y="586.2" textLength="72.8" lengthAdjust="spacingAndGlyphs">1,800.0000</text>
<text x="1355.7" y="657.2" textLength="72.8" lengthAdjust="spacingAndGlyphs">1,700.0000</text>
</g>
<g font-family="Liberation Sans, sans-serif" font-size="14.9" fill="#b2b5be" stroke="#b2b5be" stroke-width="0.3" clip-path="url(#chart)">
<text x="-0.3" y="730" font-weight="bold" textLength="32.5" lengthAdjust="spacingAndGlyphs">2025</text>
<text x="115.8" y="730" textLength="24.3" lengthAdjust="spacingAndGlyphs">Feb</text>
<text x="221.8" y="730" textLength="24.3" lengthAdjust="spacingAndGlyphs">Mar</text>
<text x="339.2" y="730" textLength="23.5" lengthAdjust="spacingAndGlyphs">Apr</text>
<text x="455.2" y="730" textLength="25.5" lengthAdjust="spacingAndGlyphs">May</text>
<text x="574.5" y="730" textLength="22.9" lengthAdjust="spacingAndGlyphs">Jun</text>
<text x="688.55" y="730" textLength="18.8" lengthAdjust="spacingAndGlyphs">Jul</text>
<text x="809" y="730" textLength="23.9" lengthAdjust="spacingAndGlyphs">Aug</text>
<text x="926.35" y="730" textLength="23.2" lengthAdjust="spacingAndGlyphs">Sep</text>
<text x="1043.3" y="730" textLength="23.3" lengthAdjust="spacingAndGlyphs">Oct</text>
<text x="1171.7" y="730" textLength="24.5" lengthAdjust="spacingAndGlyphs">Nov</text>
<text x="1277.8" y="730" textLength="24.3" lengthAdjust="spacingAndGlyphs">Dec</text>
</g>
<path d="M1344 125.3H1434Q1436.2 125.3 1436.2 127.5V143.6Q1436.2 145.8 1434 145.8H1344z" fill="#f48fb1"/><text x="1355.5" y="139.7" fill="#000" stroke="#000" stroke-width="0.4" font-family="Liberation Sans, sans-serif" font-size="15.4" textLength="73.5" lengthAdjust="spacingAndGlyphs">2,427.3373</text>
<path d="M1344 110.1H1434Q1436.2 110.1 1436.2 112.3V128.4Q1436.2 130.6 1434 130.6H1344z" fill="#f23645"/><text x="1355.5" y="124.6" fill="#fff" stroke="#fff" stroke-width="0.4" font-family="Liberation Sans, sans-serif" font-size="15.4" textLength="73.5" lengthAdjust="spacingAndGlyphs">2,448.1943</text>
<path d="M1344 147.1H1434Q1436.2 147.1 1436.2 149.3V165.6Q1436.2 167.8 1434 167.8H1344z" fill="#66bb6a"/><text x="1355.5" y="162" fill="#000" stroke="#000" stroke-width="0.4" font-family="Liberation Sans, sans-serif" font-size="15.4" textLength="73.5" lengthAdjust="spacingAndGlyphs">2,396.7746</text>
<path d="M1344 273.2H1434Q1436.2 273.2 1436.2 275.4V291.7Q1436.2 293.9 1434 293.9H1344z" fill="#c8c8c8"/><text x="1355.5" y="288" fill="#000" stroke="#000" stroke-width="0.4" font-family="Liberation Sans, sans-serif" font-size="15.4" textLength="73.5" lengthAdjust="spacingAndGlyphs">2,220.5495</text>
<path d="M1344 73.1H1434Q1436.2 73.1 1436.2 75.3V91.7Q1436.2 93.9 1434 93.9H1344z" fill="#2962ff"/><text x="1355.5" y="88.1" fill="#fff" stroke="#fff" stroke-width="0.4" font-family="Liberation Sans, sans-serif" font-size="15.4" textLength="73.5" lengthAdjust="spacingAndGlyphs">2,500.4342</text>
<path d="M1343 73.1H1307.1Q1304.9 73.1 1304.9 75.3V91.7Q1304.9 93.9 1307.1 93.9H1343z" fill="#2962ff"/><text x="1311" y="88.8" fill="#fff" stroke="#fff" stroke-width="0.4" font-family="Liberation Sans, sans-serif" font-size="15.4" textLength="26.9" lengthAdjust="spacingAndGlyphs">RUT</text>
<rect x="1343" y="73.1" width="1" height="20.8" fill="#1a3a99"/>
<rect x="1351.3" y="-2" width="82" height="2.8" fill="#3a3a3a"/>
<g transform="translate(1285.2 690.4)"><circle r="12.75" fill="#0b0d14" stroke="#ab47bc" stroke-width="2.1"/></g>
<g transform="translate(1301.1 690.4)"><circle r="12.75" fill="#0b0d14" stroke="#f23645" stroke-width="2.1"/><g clip-path="url(#flag)"><rect x="-11" y="-11" width="22" height="22" fill="#fff"/><rect x="-11" y="-9.9" width="22" height="4.1" fill="#ef5350"/><rect x="-11" y="-1.7" width="22" height="4.1" fill="#ef5350"/><rect x="-11" y="6.5" width="22" height="4.1" fill="#ef5350"/><rect x="-11" y="-11" width="13.1" height="13.4" fill="#1e88e5"/><rect x="-7.9" y="-7.9" width="1.4" height="1.4" fill="#fff"/><rect x="-4.7" y="-7.9" width="1.4" height="1.4" fill="#fff"/><rect x="-1.2999999999999998" y="-7.9" width="1.4" height="1.4" fill="#fff"/><rect x="-7.9" y="-4.3" width="1.4" height="1.4" fill="#fff"/><rect x="-4.7" y="-4.3" width="1.4" height="1.4" fill="#fff"/><rect x="-1.2999999999999998" y="-4.3" width="1.4" height="1.4" fill="#fff"/><rect x="-7.9" y="-0.7" width="1.4" height="1.4" fill="#fff"/><rect x="-4.7" y="-0.7" width="1.4" height="1.4" fill="#fff"/><rect x="-1.2999999999999998" y="-0.7" width="1.4" height="1.4" fill="#fff"/></g></g>
<g transform="translate(1289.9 690.4)"><circle r="12.75" fill="#0b0d14" stroke="#f23645" stroke-width="2.1"/><g clip-path="url(#flag)"><rect x="-11" y="-11" width="22" height="22" fill="#fff"/><rect x="-11" y="-9.9" width="22" height="4.1" fill="#ef5350"/><rect x="-11" y="-1.7" width="22" height="4.1" fill="#ef5350"/><rect x="-11" y="6.5" width="22" height="4.1" fill="#ef5350"/><rect x="-11" y="-11" width="13.1" height="13.4" fill="#1e88e5"/><rect x="-7.9" y="-7.9" width="1.4" height="1.4" fill="#fff"/><rect x="-4.7" y="-7.9" width="1.4" height="1.4" fill="#fff"/><rect x="-1.2999999999999998" y="-7.9" width="1.4" height="1.4" fill="#fff"/><rect x="-7.9" y="-4.3" width="1.4" height="1.4" fill="#fff"/><rect x="-4.7" y="-4.3" width="1.4" height="1.4" fill="#fff"/><rect x="-1.2999999999999998" y="-4.3" width="1.4" height="1.4" fill="#fff"/><rect x="-7.9" y="-0.7" width="1.4" height="1.4" fill="#fff"/><rect x="-4.7" y="-0.7" width="1.4" height="1.4" fill="#fff"/><rect x="-1.2999999999999998" y="-0.7" width="1.4" height="1.4" fill="#fff"/></g></g>
<path fill="#dedede" d="M15.15 769.1H30.6V788.2H22.87V776.8H15.15zM44.06 769.1H53.15L45.58 788.2H36.87z"/><circle cx="36.65" cy="773" r="3.85" fill="#dedede"/>
<g transform="translate(62.1 788.2) scale(0.95 1)"><text x="0.00 12.42 23.58 39.37 55.89 63.37 79.89 95.16 113.37 120.84 136.74" y="0" fill="#dedede" font-family="Liberation Sans, sans-serif" font-weight="bold" font-size="26.8">TradingView</text></g>
</svg>
</body></html>
